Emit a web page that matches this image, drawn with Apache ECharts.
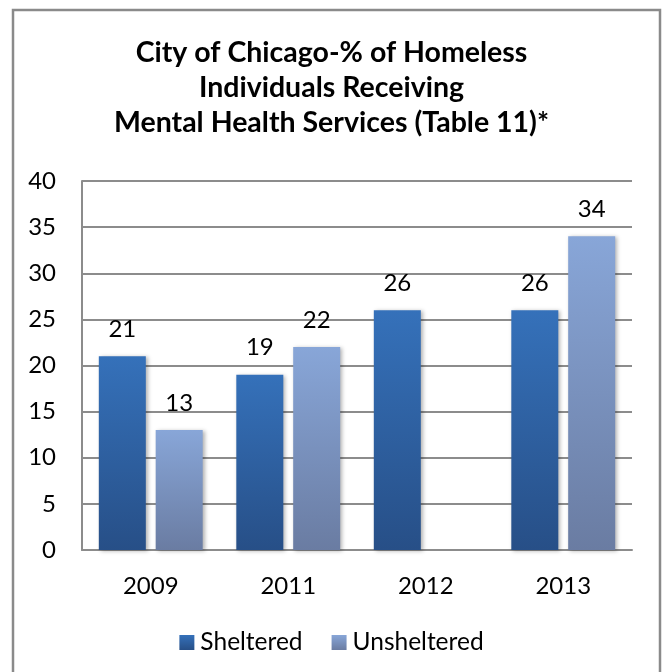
<!DOCTYPE html>
<html>
<head>
<meta charset="utf-8">
<script src="https://cdn.jsdelivr.net/npm/echarts@6/dist/echarts.min.js"></script>
<style>
  html, body { margin: 0; padding: 0; background: #fff; }
  #chart { width: 663px; height: 672px; }
</style>
</head>
<body>
<div id="chart"></div>
<script>
const years = ['2009', '2011', '2012', '2013'];
const sheltered = [21, 19, 26, 26];
const unsheltered = [13, 22, null, 34];
const yTicks = { min: 0, max: 40, step: 5 };

const FONT = 'Lato';
const chart = echarts.init(document.getElementById('chart'), null, { renderer: 'canvas' });

function grad(top, bottom) {
  return new echarts.graphic.LinearGradient(0, 0, 0, 1, [
    { offset: 0, color: top },
    { offset: 1, color: bottom }
  ]);
}

const labelStyle = {
  show: true,
  position: 'top',
  distance: 15,
  fontFamily: FONT,
  fontSize: 24,
  color: '#000'
};

chart.setOption({
  animation: false,
  textStyle: { fontFamily: FONT },
  graphic: [{
    type: 'rect',
    shape: { x: 13, y: 10, width: 647, height: 680 },
    style: { fill: 'none', stroke: '#8a8a8a', lineWidth: 2.5 },
    z: 100
  }],
  title: {
    text: 'City of Chicago-% of Homeless\nIndividuals Receiving\nMental Health Services (Table 11)*',
    left: 'center',
    top: 30,
    textStyle: {
      fontFamily: FONT,
      fontWeight: 'bold',
      fontSize: 28.5,
      lineHeight: 35,
      color: '#000'
    }
  },
  legend: {
    bottom: 12,
    left: 'center',
    itemWidth: 15,
    itemHeight: 15,
    itemGap: 29,
    icon: 'rect',
    textStyle: { fontFamily: FONT, fontSize: 24.5, color: '#000', padding: [0, 0, 0, 1] },
    data: ['Sheltered', 'Unsheltered']
  },
  grid: { left: 82, right: 31, top: 181, bottom: 122 },
  xAxis: {
    type: 'category',
    data: years,
    axisLine: { lineStyle: { color: '#8c8c8c', width: 2 } },
    axisTick: { show: false },
    axisLabel: { fontFamily: FONT, fontSize: 24, color: '#000', margin: 24 }
  },
  yAxis: {
    type: 'value',
    min: yTicks.min,
    max: yTicks.max,
    interval: yTicks.step,
    axisLine: { show: true, lineStyle: { color: '#8c8c8c', width: 2 } },
    axisTick: { show: false },
    splitLine: { lineStyle: { color: '#8c8c8c', width: 2 } },
    axisLabel: { fontFamily: FONT, fontSize: 24, color: '#000', margin: 26 }
  },
  series: [
    {
      name: 'Sheltered',
      type: 'bar',
      data: sheltered,
      barWidth: 47,
      barGap: '21%',
      itemStyle: {
        color: grad('#3571ba', '#274f87'),
        shadowColor: 'rgba(0,0,0,0.3)',
        shadowBlur: 4,
        shadowOffsetX: 2,
        shadowOffsetY: 1
      },
      label: labelStyle
    },
    {
      name: 'Unsheltered',
      type: 'bar',
      data: unsheltered,
      barWidth: 47,
      itemStyle: {
        color: grad('#88a6d8', '#6a7ca2'),
        shadowColor: 'rgba(0,0,0,0.3)',
        shadowBlur: 4,
        shadowOffsetX: 2,
        shadowOffsetY: 1
      },
      label: labelStyle
    }
  ]
});
</script>
</body>
</html>
